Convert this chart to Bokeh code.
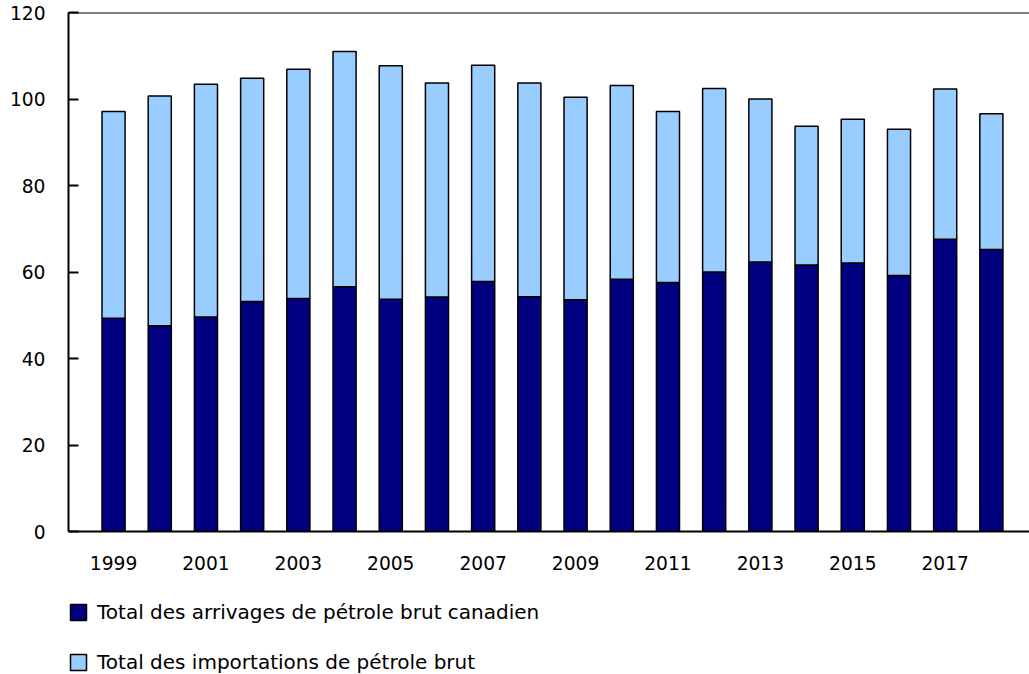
from bokeh.plotting import figure
from bokeh.layouts import column
from bokeh.models import (ColumnDataSource, Range1d, FixedTicker, Span,
                          Legend, LegendItem)
from bokeh.embed import file_html
from bokeh.resources import INLINE

# ---- data ----
years = [1999, 2000, 2001, 2002, 2003, 2004, 2005, 2006, 2007, 2008,
         2009, 2010, 2011, 2012, 2013, 2014, 2015, 2016, 2017, 2018]
canadian = [49.3, 47.6, 49.6, 53.2, 53.9, 56.6, 53.7, 54.2, 57.8, 54.3,
            53.6, 58.3, 57.6, 60.0, 62.3, 61.6, 62.1, 59.2, 67.6, 65.2]
imports = [47.8, 53.1, 53.8, 51.6, 53.0, 54.4, 54.0, 49.5, 50.0, 49.4,
           46.8, 44.8, 39.5, 42.4, 37.7, 32.1, 33.2, 33.8, 34.7, 31.4]
series_names = ["Total des arrivages de pétrole brut canadien",
                "Total des importations de pétrole brut"]
tick_years = [1999, 2001, 2003, 2005, 2007, 2009, 2011, 2013, 2015, 2017]
tick_labels = ["1999", "2001", "2003", "2005", "2007", "2009", "2011",
               "2013", "2015", "2017"]
y_ticks = [0, 20, 40, 60, 80, 100, 120]

colors = ["#000080", "#99CCFF"]
FONT = "DejaVu Sans"
FSIZE = "14pt"

source = ColumnDataSource(dict(year=years, canadian=canadian, imports=imports))

p = figure(width=1029, height=585, output_backend="svg", toolbar_location=None,
           x_range=Range1d(1998.025, 2018.825), y_range=Range1d(0, 120),
           min_border_left=68, min_border_right=0, min_border_top=12,
           min_border_bottom=54)

renderers = p.vbar_stack(["canadian", "imports"], x="year", width=0.5,
                         source=source, fill_color=colors,
                         line_color="black", line_width=1.5)

p.xgrid.visible = False
p.ygrid.visible = False
p.outline_line_color = None
p.background_fill_color = "white"

# x axis
xa = p.xaxis[0]
xa.ticker = FixedTicker(ticks=tick_years)
xa.major_label_overrides = {y: l for y, l in zip(tick_years, tick_labels)}
xa.major_tick_line_color = None
xa.minor_tick_line_color = None
xa.major_tick_in = 0
xa.major_tick_out = 0
xa.axis_line_width = 2
xa.axis_line_color = "black"
xa.major_label_standoff = 24
xa.major_label_text_font = FONT
xa.major_label_text_font_size = FSIZE
xa.major_label_text_color = "black"

# y axis
ya = p.yaxis[0]
ya.ticker = FixedTicker(ticks=y_ticks)
ya.minor_tick_line_color = None
ya.major_tick_in = 10
ya.major_tick_out = 0
ya.major_tick_line_width = 2
ya.major_tick_line_color = "black"
ya.axis_line_width = 2
ya.axis_line_color = "black"
ya.major_label_standoff = 23
ya.major_label_text_font = FONT
ya.major_label_text_font_size = FSIZE
ya.major_label_text_color = "black"

# top border line
p.add_layout(Span(location=120, dimension="width", line_color="black",
                  line_width=2))

# ---- legend strip below the chart ----
p2 = figure(width=1029, height=89, output_backend="svg", toolbar_location=None,
            x_range=Range1d(0, 1), y_range=Range1d(0, 1),
            min_border_left=0, min_border_right=0, min_border_top=0,
            min_border_bottom=0)
p2.axis.visible = False
p2.xgrid.visible = False
p2.ygrid.visible = False
p2.outline_line_color = None

# same series, hidden: only used for legend keys
key_renderers = p2.vbar_stack(["canadian", "imports"], x="year", width=0.5,
                              source=source, fill_color=colors,
                              line_color="black", line_width=1.5)
for r in key_renderers:
    r.visible = False

legend = Legend(items=[LegendItem(label=n, renderers=[r])
                       for n, r in zip(series_names, key_renderers)],
                location=(0, 0), orientation="vertical",
                glyph_width=20, glyph_height=20, label_height=20,
                spacing=26, padding=0, margin=0, label_standoff=9,
                border_line_color=None, background_fill_alpha=0,
                label_text_font=FONT, label_text_font_size="15pt",
                label_text_color="black")
p2.add_layout(legend, "center")

layout = column(p, p2, spacing=0)
open("out.html", "w").write(file_html(layout, INLINE))
